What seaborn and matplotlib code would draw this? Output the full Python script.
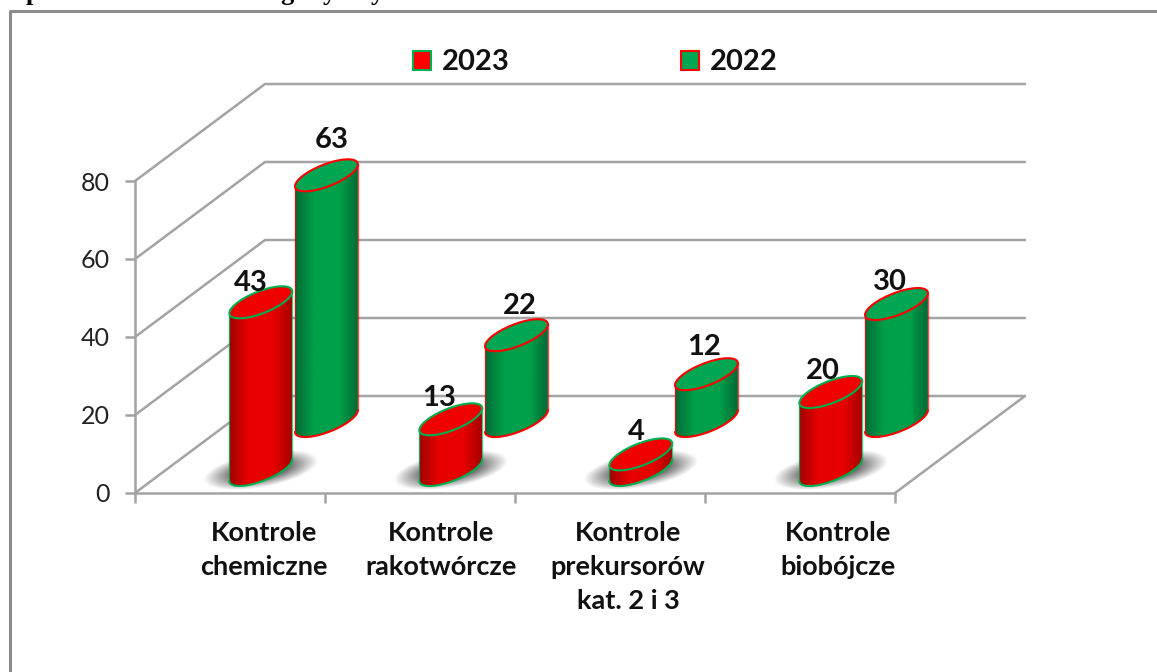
import numpy as np
import matplotlib
matplotlib.use("Agg")
import matplotlib.pyplot as plt
import seaborn as sns
from matplotlib.colors import LinearSegmentedColormap
from matplotlib.lines import Line2D
from matplotlib.patches import Patch, Polygon

# data
categories = ["Kontrole\nchemiczne", "Kontrole\nrakotwórcze", "Kontrole\nprekursorów\nkat. 2 i 3", "Kontrole\nbiobójcze"]
values_2023 = [43, 13, 4, 20]
values_2022 = [63, 22, 12, 30]
y_ticks = [0, 20, 40, 60, 80]

# label nudges in pixels, the original chart had them hand placed
nudge_2023 = [(-10, 19), (-12, 21), (-4, 22), (-8, 21)]
nudge_2022 = [(5, 35), (3, 29), (-2, 27), (-7, 22)]
cat_label_shift = [0.18, 0.11, 0.095, 0.20]

W, H = 1157, 672
PX_X = 190.0   # pixels per category
PX_Y = 3.9     # pixels per value unit
X0, Y0 = 135, 493
DX = 130 / PX_X   # the depth of the floor, in data units
DY = 97 / PX_Y
RC = 23 / PX_X    # cylinder radius across
RD = 0.165        # cylinder radius in depth
GRID = "#a3a3a3"
RED, GREEN = "#f00000", "#00a651"
RED_EDGE, GREEN_EDGE = "#ff0000", "#00b050"

sns.set_theme(style="white")
plt.rcParams["font.family"] = ["Lato", "DejaVu Sans"]

fig = plt.figure(figsize=(W / 100, H / 100), dpi=100)
ax = fig.add_axes([0, 0, 1, 1])
ax.patch.set_visible(False)

# 3d box: side wall, back wall, floor
for v in y_ticks:
    sns.lineplot(x=[0, DX, 4 + DX], y=[v, v + DY, v + DY], sort=False, estimator=None,
                 color=GRID, lw=1.8, ax=ax, legend=False, zorder=1)
sns.lineplot(x=[4, 4 + DX], y=[0, DY], sort=False, estimator=None, color=GRID, lw=1.8,
             ax=ax, legend=False, zorder=1)

ax.set_xlim(-X0 / PX_X, (W - X0) / PX_X)
ax.set_ylim((Y0 - H) / PX_Y, Y0 / PX_Y)
xl, yl = ax.get_xlim(), ax.get_ylim()

for s in ["top", "right"]:
    ax.spines[s].set_visible(False)
for s in ["left", "bottom"]:
    ax.spines[s].set_position(("data", 0))
    ax.spines[s].set_color(GRID)
    ax.spines[s].set_linewidth(1.8)
    ax.spines[s].set_zorder(1)
ax.spines["left"].set_bounds(0, 80)
ax.spines["bottom"].set_bounds(0, 4)
ax.set_yticks(y_ticks)
ax.set_xticks(range(5))
ax.set_xticklabels([])
ax.set_xticks([i + 0.5 + s for i, s in enumerate(cat_label_shift)], minor=True)
ax.set_xticklabels(categories, minor=True, fontsize=19.5, fontweight="bold", color="#111111", linespacing=1.5)
ax.tick_params(axis="y", direction="out", length=7, width=1.8, color=GRID, left=True, labelsize=18,
               labelcolor="#222222", pad=11)
ax.tick_params(axis="x", which="major", direction="out", length=7, width=1.8, color=GRID, bottom=True)
ax.tick_params(axis="x", which="minor", length=0, pad=20)
ax.set_xlabel("")
ax.set_ylabel("")


def ramp(dark_l, mid, dark_r):
    return LinearSegmentedColormap.from_list("c", [(0, dark_l), (0.3, mid), (0.72, mid), (1, dark_r)])


red_map = ramp("#a00000", "#e60000", "#a80000")
green_map = ramp("#006b35", "#009f49", "#006b35")


def ring(cx, cy, t):
    return cx + RC * np.cos(t) + RD * DX * np.sin(t), cy + RD * DY * np.sin(t)


def cylinder(cat, depth, value, cmap, top, edge, z):
    cx = cat + depth * DX
    cy = depth * DY
    t0 = np.arctan2(RD * DX, RC)
    front = np.linspace(t0 + np.pi, t0 + 2 * np.pi, 60)
    back = np.linspace(t0, t0 + np.pi, 60)
    bx, by = ring(cx, cy, front)
    tx, ty = ring(cx, cy + value, back)
    outline = np.column_stack([np.r_[bx, tx], np.r_[by, ty]])
    body = Polygon(outline, transform=ax.transData, fc="none", ec="none")
    ax.add_patch(body)
    im = ax.imshow(np.linspace(0, 1, 64)[None, :], cmap=cmap, aspect="auto", interpolation="bilinear",
                   extent=[bx.min(), bx.max(), by.min(), ty.max()], zorder=z)
    im.set_clip_path(body)
    # side lines are thin and pale, the rims are stronger
    ax.plot([bx[0], tx[-1]], [by[0], ty[-1]], color=edge, lw=1, alpha=0.7, zorder=z + 0.1)
    ax.plot([bx[-1], tx[0]], [by[-1], ty[0]], color=edge, lw=1, alpha=0.7, zorder=z + 0.1)
    ax.plot(bx, by, color=edge, lw=1.5, zorder=z + 0.1)
    ex, ey = ring(cx, cy + value, np.linspace(0, 2 * np.pi, 120))
    ax.fill(ex, ey, fc=top, ec=edge, lw=1.5, zorder=z + 0.2)
    return cx, cy + value


def shadow(cat, depth, z):
    cx = cat + depth * DX
    cy = depth * DY
    gx = np.linspace(cx - 2.8 * RC - RD * DX, cx + 2.8 * RC + RD * DX, 200)
    gy = np.linspace(cy - 1.3 * RD * DY, cy + 1.3 * RD * DY, 90)
    xx, yy = np.meshgrid(gx, gy)
    s = (yy - cy) / (RD * DY)
    c = (xx - cx - s * RD * DX) / RC
    r = np.sqrt((c / 2.2) ** 2 + (s / 1.25) ** 2)
    img = np.zeros(r.shape + (4,))
    img[..., :3] = 0.25
    img[..., 3] = np.clip((1 - r) / 0.5, 0, 1) * 0.75
    ax.imshow(img, origin="lower", aspect="auto", interpolation="bilinear",
              extent=[gx[0], gx[-1], gy[0], gy[-1]], zorder=z)


def value_label(x, y, val, nudge):
    ax.annotate(str(val), (x, y), xytext=nudge, textcoords="offset pixels", ha="center", va="center",
                fontsize=21, fontweight="bold", color="#111111", zorder=9)


for i, val in enumerate(values_2022):
    x, y = cylinder(i + 0.5, 0.742, val, green_map, GREEN, RED_EDGE, 3)
    value_label(x, y, val, nudge_2022[i])
for i, val in enumerate(values_2023):
    shadow(i + 0.5, 0.237, 4)
    x, y = cylinder(i + 0.5, 0.237, val, red_map, RED, GREEN_EDGE, 5)
    value_label(x, y, val, nudge_2023[i])

ax.set_xlim(xl)
ax.set_ylim(yl)

handles = [Patch(fc="#ff0000", ec=GREEN_EDGE, lw=1.5), Patch(fc=GREEN, ec=RED_EDGE, lw=1.5)]
leg = ax.legend(handles, ["2023", "2022"], ncol=2, loc="center left", frameon=False,
                bbox_to_anchor=(413 / W, 1 - 62.5 / H), bbox_transform=fig.transFigure,
                borderpad=0, borderaxespad=0, handlelength=0.62, handleheight=0.62,
                handletextpad=0.38, columnspacing=5.85,
                prop={"size": 21, "weight": "bold", "family": ["Lato", "DejaVu Sans"]})
for t in leg.get_texts():
    t.set_color("#111111")

# chart frame, open on the right and at the bottom as in the crop
fig.add_artist(Line2D([1, 10 / W, 10 / W], [1 - 11 / H, 1 - 11 / H, 0], color="#8c8c8c", lw=2.2))

# tails of the caption above the chart, cut off by the crop
for px, ch in [(26, "p"), (280, "g"), (323, "y"), (371, "y")]:
    fig.text(px / W, 1.0, ch, fontsize=19, fontweight="bold", family="Liberation Serif", color="black",
             va="baseline", ha="left")

fig.savefig("out.png", dpi=100)
